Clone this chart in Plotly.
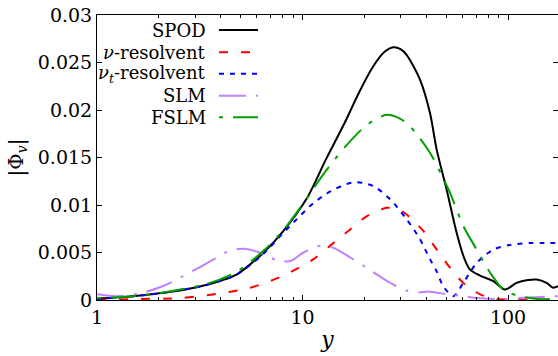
import plotly.graph_objects as go

# ---- data ----
spod_x = [1.0, 1.5, 2.11, 2.7, 3.43, 4.1, 4.8, 5.6, 6.48, 8.1, 10.5, 13.0, 16.0, 19.0, 22.1, 25.0, 27.7, 30.0, 32.1, 37.3, 41.7, 45, 50.3, 56.2, 61, 65.3, 73.1, 84.8, 96.7, 110, 125, 138, 154, 166, 175]
spod_y = [0.00015, 0.0004, 0.00076, 0.0011, 0.0016, 0.0021, 0.0027, 0.0038, 0.0050, 0.0073, 0.0107, 0.0148, 0.0186, 0.0220, 0.0246, 0.0261, 0.0266, 0.0264, 0.0258, 0.0232, 0.0197, 0.0158, 0.0116, 0.0071, 0.0045, 0.0032, 0.00257, 0.00198, 0.0011, 0.0018, 0.0021, 0.00215, 0.0018, 0.0013, 0.00145]

nu_x = [1.0, 1.57, 2.54, 3.43, 5.37, 6.97, 8.7, 11.3, 13.6, 17.0, 20.5, 25.7, 28.8, 32.1, 38.6, 45, 52.2, 60.6, 73.1, 88.3, 110, 140, 175]
nu_y = [0.0, 0.0001, 0.0002, 0.0005, 0.0012, 0.0020, 0.0029, 0.0043, 0.0057, 0.0074, 0.0088, 0.0097, 0.0096, 0.0090, 0.0073, 0.0053, 0.0034, 0.0018, 0.0006, 0.0001, 0.00005, 0.00005, 0.00005]

nut_x = [1.0, 1.5, 2.11, 3.43, 4.8, 6.48, 7.77, 9.37, 11.3, 13.6, 16.4, 18.4, 22.1, 26.7, 32.1, 37.3, 41.7, 45.0, 48.4, 54.3, 60.6, 70.4, 84.8, 102, 128, 150, 175]
nut_y = [0.0001, 0.0004, 0.00075, 0.0016, 0.0027, 0.0049, 0.0067, 0.0085, 0.0102, 0.0114, 0.0122, 0.0124, 0.0120, 0.0106, 0.0085, 0.0064, 0.0043, 0.0030, 0.00145, 0.0004, 0.0018, 0.0039, 0.0053, 0.0058, 0.0060, 0.0060, 0.0060]

slm_x = [1.0, 1.25, 1.62, 2.11, 3.07, 4.45, 5.17, 6.0, 7.5, 8.75, 10.1, 12.2, 14.1, 17.0, 20.5, 26.7, 32.1, 37.3, 41.0, 50.3, 60.6, 70.4, 92, 115, 138, 175]
slm_y = [0.0006, 0.0004, 0.0007, 0.0015, 0.0033, 0.0052, 0.0054, 0.0051, 0.0042, 0.0041, 0.0050, 0.0057, 0.0055, 0.0045, 0.0034, 0.0018, 0.0010, 0.0008, 0.0009, 0.0006, 0.0004, 0.0002, 0.0001, 0.0002, 0.0003, 0.0004]

fslm_x = [1.0, 1.5, 2.11, 3.43, 4.8, 6.48, 8.1, 10.5, 12.6, 16.4, 20.5, 25.7, 29.8, 33.3, 41.7, 48.4, 52.2, 60.6, 70.4, 81.7, 94.9, 114, 140, 175]
fslm_y = [0.0002, 0.0004, 0.0008, 0.0017, 0.0030, 0.0052, 0.0074, 0.0107, 0.0132, 0.0163, 0.0184, 0.0195, 0.0191, 0.0183, 0.0155, 0.0128, 0.0113, 0.0078, 0.0053, 0.0029, 0.0011, 0.0004, 0.0001, 0.0001]

names = ["SPOD", "<i>ν</i>-resolvent", "<i>ν<sub>t</sub></i>-resolvent", "SLM", "FSLM"]
colors = ["#000000", "#ff0000", "#0000ff", "#c080ff", "#00a000"]
dashes = ["solid", "9px,13px", "5px,6px", "27px,10px,3px,10px", "4px,10px,25px,10px"]
series = [(spod_x, spod_y), (nu_x, nu_y), (nut_x, nut_y), (slm_x, slm_y), (fslm_x, fslm_y)]

x_ticks = [1, 10, 100]
x_ticktext = ["1", "10", "100"]
y_ticks = [0, 0.005, 0.01, 0.015, 0.02, 0.025, 0.03]
y_ticktext = ["0", "0.005", "0.01", "0.015", "0.02", "0.025", "0.03"]

FONT = "DejaVu Serif"

fig = go.Figure()
for (xs, ys), c, d, n in zip(series, colors, dashes, names):
    fig.add_trace(go.Scatter(x=xs, y=ys, mode="lines", name=n,
                             line=dict(color=c, width=2, dash=d, shape="spline", smoothing=0.8),
                             showlegend=False))

# manual legend (text right-aligned, sample on the right)
leg_y = [0.947, 0.869, 0.794, 0.717, 0.641]
for n, c, d, yy in zip(names, colors, dashes, leg_y):
    fig.add_annotation(x=0.2408, y=yy, xref="paper", yref="paper", text=n,
                       showarrow=False, xanchor="right", yanchor="middle",
                       font=dict(family=FONT, size=18, color="#000"))
    fig.add_shape(type="line", xref="paper", yref="paper", x0=0.2646, x1=0.3492,
                  y0=yy, y1=yy, line=dict(color=c, width=2, dash=d))

fig.update_layout(
    width=558, height=356,
    margin=dict(l=97, r=0, t=15, b=56),
    paper_bgcolor="white", plot_bgcolor="white",
    font=dict(family=FONT, size=19, color="#000"),
    showlegend=False,
)
fig.update_xaxes(type="log", range=[0, 2.2433], tickvals=x_ticks, ticktext=x_ticktext,
                 ticks="inside", ticklen=5, tickcolor="#000", showline=True, linecolor="#000",
                 linewidth=1, mirror="ticks", showgrid=False, zeroline=False,
                 minor=dict(ticks="inside", ticklen=3, tickcolor="#000", dtick="D1", showgrid=False),
                 title=dict(text="<i>y</i>", standoff=4, font=dict(family=FONT, size=22)))
fig.update_yaxes(range=[0, 0.03], tickvals=y_ticks, ticktext=y_ticktext,
                 ticks="inside", ticklen=5, tickcolor="#000", showline=True, linecolor="#000",
                 linewidth=1, mirror="ticks", showgrid=False, zeroline=False,
                 title=dict(text="|Φ<sub><i>v</i></sub>|", standoff=8, font=dict(family=FONT, size=20)))

fig.write_html("out.html")
